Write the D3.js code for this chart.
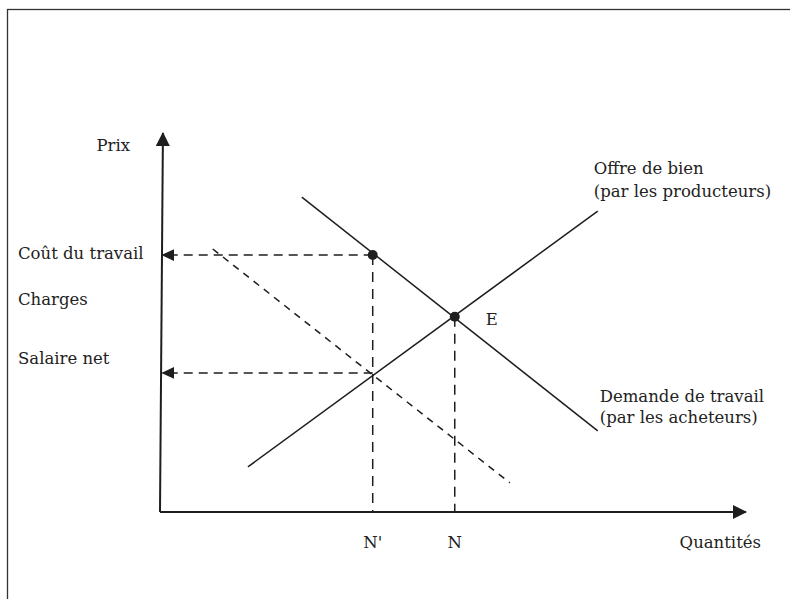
<!DOCTYPE html>
<html>
<head>
<meta charset="utf-8">
<script src="https://cdn.jsdelivr.net/npm/d3@7"></script>
<style>
    body { margin: 0; background: #fff; }
    text { font-family: "DejaVu Serif", serif; fill: #222; font-size: 16.5px; }
</style>
</head>
<body>
<div id="chart"></div>
<script>
// curves, in (quantity, price) units on a 0-100 scale
const demand = [[24.2, 83.1], [74.7, 21.4]];
const supply = [[15.0, 11.9], [74.7, 79.4]];
const demandShifted = [[9.0, 69.4], [59.7, 7.7]];

const pointA = [36.3, 67.8];   // labour cost at N'
const pointE = [50.3, 51.5];   // equilibrium
const netWage = 36.7;          // net wage at N'

const quantityMarks = [
    { label: "N'", q: 36.3 },
    { label: 'N', q: 50.3 }
];
const priceLabels = [
    { label: 'Coût du travail', p: 67.8 },
    { label: 'Charges', p: 55.7 },
    { label: 'Salaire net', p: 40.0 }
];

const width = 790, height = 599;
const ink = '#1e1e1e';

const svg = d3.select('#chart').append('svg')
    .attr('width', width)
    .attr('height', height);

// frame (only top and left edges are visible)
svg.append('rect')
    .attr('x', 7.5).attr('y', 9.5)
    .attr('width', 900).attr('height', 700)
    .attr('fill', 'none')
    .attr('stroke', '#333')
    .attr('stroke-width', 1.3);

const x = d3.scaleLinear().domain([0, 100]).range([160, 746]);
const y = d3.scaleLinear().domain([0, 100]).range([512, 133]);

const defs = svg.append('defs');
defs.append('marker')
    .attr('id', 'axis-head')
    .attr('markerUnits', 'userSpaceOnUse')
    .attr('viewBox', '0 0 14 14')
    .attr('markerWidth', 14).attr('markerHeight', 14)
    .attr('refX', 13).attr('refY', 7)
    .attr('orient', 'auto')
    .append('path')
    .attr('d', 'M0,0 L14,7 L0,14 Z')
    .attr('fill', ink);
defs.append('marker')
    .attr('id', 'dash-head')
    .attr('markerUnits', 'userSpaceOnUse')
    .attr('viewBox', '0 0 13 12')
    .attr('markerWidth', 13).attr('markerHeight', 12)
    .attr('refX', 12).attr('refY', 6)
    .attr('orient', 'auto')
    .append('path')
    .attr('d', 'M0,0 L13,6 L0,12 Z')
    .attr('fill', ink);

const line = d3.line().x(d => x(d[0])).y(d => y(d[1]));

// axes
svg.append('path')
    .datum([[0, 0], [100, 0]])
    .attr('d', line)
    .attr('stroke', ink).attr('stroke-width', 2)
    .attr('marker-end', 'url(#axis-head)');
svg.append('path')
    .datum([[0, 0], [0.5, 100]])
    .attr('d', line)
    .attr('stroke', ink).attr('stroke-width', 2)
    .attr('marker-end', 'url(#axis-head)');

// dashed guides to the price axis
[[pointA, pointA[1]], [[pointA[0], netWage], netWage]].forEach(([from, p]) => {
    svg.append('path')
        .datum([from, [0.4, p]])
        .attr('d', line)
        .attr('stroke', ink).attr('stroke-width', 1.5)
        .attr('stroke-dasharray', '9,6')
        .attr('marker-end', 'url(#dash-head)');
});

// dashed verticals down to quantities
[pointA, pointE].forEach(pt => {
    svg.append('path')
        .datum([pt, [pt[0], 0]])
        .attr('d', line)
        .attr('stroke', ink).attr('stroke-width', 1.5)
        .attr('stroke-dasharray', '10,7');
});

// shifted demand
svg.append('path')
    .datum(demandShifted)
    .attr('d', line)
    .attr('stroke', ink).attr('stroke-width', 1.5)
    .attr('stroke-dasharray', '7,6');

// supply and demand
[demand, supply].forEach(curve => {
    svg.append('path')
        .datum(curve)
        .attr('d', line)
        .attr('fill', 'none')
        .attr('stroke', ink)
        .attr('stroke-width', 1.5);
});

svg.selectAll('.dot')
    .data([pointA, pointE])
    .enter().append('circle')
    .attr('class', 'dot')
    .attr('cx', d => x(d[0]))
    .attr('cy', d => y(d[1]))
    .attr('r', 5)
    .attr('fill', ink);

// labels
svg.append('text')
    .attr('x', x(0) - 30).attr('y', y(100) + 18)
    .attr('text-anchor', 'end')
    .text('Prix');

svg.append('text')
    .attr('x', x(100) + 15).attr('y', y(0) + 36)
    .attr('text-anchor', 'end')
    .text('Quantités');

svg.selectAll('.plabel')
    .data(priceLabels)
    .enter().append('text')
    .attr('class', 'plabel')
    .attr('x', 18)
    .attr('y', d => y(d.p) + 4)
    .text(d => d.label);

svg.selectAll('.qlabel')
    .data(quantityMarks)
    .enter().append('text')
    .attr('class', 'qlabel')
    .attr('x', d => x(d.q))
    .attr('y', y(0) + 36)
    .attr('text-anchor', 'middle')
    .text(d => d.label);

svg.append('text')
    .attr('x', x(pointE[0]) + 31).attr('y', y(pointE[1]) + 8)
    .text('E');

const supplyEnd = supply[1], demandEnd = demand[1];
svg.append('text')
    .attr('x', x(supplyEnd[0]) - 4).attr('y', y(supplyEnd[1]) - 37)
    .text('Offre de bien');
svg.append('text')
    .attr('x', x(supplyEnd[0]) - 4).attr('y', y(supplyEnd[1]) - 14)
    .text('(par les producteurs)');
svg.append('text')
    .attr('x', x(demandEnd[0]) + 2).attr('y', y(demandEnd[1]) - 29)
    .text('Demande de travail');
svg.append('text')
    .attr('x', x(demandEnd[0]) + 2).attr('y', y(demandEnd[1]) - 8)
    .text('(par les acheteurs)');
</script>
</body>
</html>
